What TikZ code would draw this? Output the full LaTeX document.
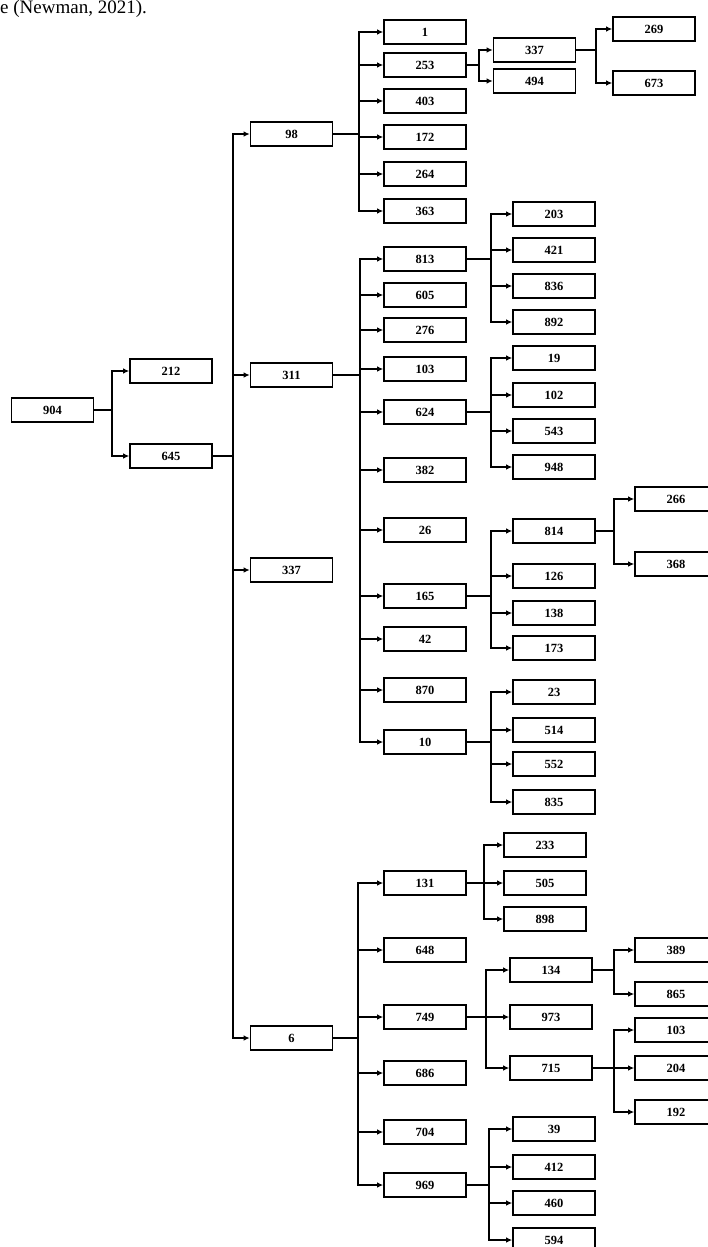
\documentclass[tikz,border=0pt]{standalone}
\usepackage{fontspec}
\setmainfont{Liberation Serif}
\usetikzlibrary{arrows.meta}

% one parent, a bus at distance #2, arrows to every child in #3
\newcommand\treefork[3]{%
  \foreach \kid in {#3}
    \draw[link] (#1.east) -- ++(#2,0) |- (\kid.west);}

\begin{document}
\begin{tikzpicture}[
  x=1pt,y=-1pt,
  item/.style={draw,line width=1.6pt,minimum width=82pt,minimum height=24pt,inner sep=0pt,
    font=\fontsize{12.5}{12.5}\selectfont\bfseries},
  link/.style={line width=1.4pt,-{Latex[length=6pt,width=5.5pt]}}
]
  \useasboundingbox (0,0) rectangle (707,1247);
  \node[anchor=base west,inner sep=0pt,font=\fontsize{19}{19}\selectfont] (cap) at (0,14) {e (Newman, 2021).};

  % root and first columns
  \node[item] (n904) at (52.5,410) {904};
  \foreach \n/\y in {212/371,645/456} \node[item] (n\n) at (171,\y) {\n};
  \foreach \n/\y in {98/134,311/375,337/570,6/1038} \node[item] (n\n) at (291.5,\y) {\n};

  % third column
  \foreach \n/\y in {1/32,253/65,403/101,172/137,264/174,363/211,813/259,605/295,276/330,
    103/369,624/412,382/470,26/530,165/596,42/639,870/690,10/742,131/883,648/950,
    749/1017,686/1073,704/1132,969/1185}
    \node[item] (n\n) at (425,\y) {\n};

  % fourth column
  \foreach \n/\t/\y in {337b/337/50,494/494/81} \node[item] (n\n) at (534.5,\y) {\t};
  \foreach \n/\y in {203/214,421/250,836/286,892/322,19/358,102/395,543/431,948/467,
    814/531,126/576,138/613,173/648,23/692,514/730,552/764,835/802,
    39/1129,412/1167,460/1203,594/1240}
    \node[item] (n\n) at (554,\y) {\n};
  \foreach \n/\y in {233/845,505/883,898/919} \node[item] (n\n) at (545,\y) {\n};
  \foreach \n/\y in {134/970,973/1017,715/1068} \node[item] (n\n) at (551,\y) {\n};

  % fifth column
  \foreach \n/\y in {269/29,673/83} \node[item] (n\n) at (654,\y) {\n};
  \foreach \n/\t/\y in {266/266/499,368/368/564,389/389/950,865/865/994,103b/103/1030,
    204/204/1068,192/192/1112}
    \node[item] (n\n) at (676,\y) {\t};

  % connectors
  \treefork{n904}{17.5}{n212,n645}
  \treefork{n645}{20}{n98,n311,n337,n6}
  \treefork{n98}{25.5}{n1,n253,n403,n172,n264,n363}
  \treefork{n311}{26.5}{n813,n605,n276,n103,n624,n382,n26,n165,n42,n870,n10}
  \treefork{n6}{24.5}{n131,n648,n749,n686,n704,n969}
  \treefork{n253}{12}{n337b,n494}
  \treefork{n813}{24}{n203,n421,n836,n892}
  \treefork{n624}{24}{n19,n102,n543,n948}
  \treefork{n165}{24}{n814,n126,n138,n173}
  \treefork{n10}{24}{n23,n514,n552,n835}
  \treefork{n131}{17}{n233,n505,n898}
  \treefork{n749}{19}{n134,n973,n715}
  \treefork{n969}{22}{n39,n412,n460,n594}
  \treefork{n337b}{19.5}{n269,n673}
  \treefork{n814}{18}{n266,n368}
  \treefork{n134}{21}{n389,n865}
  \treefork{n715}{21}{n103b,n204,n192}
\end{tikzpicture}
\end{document}
